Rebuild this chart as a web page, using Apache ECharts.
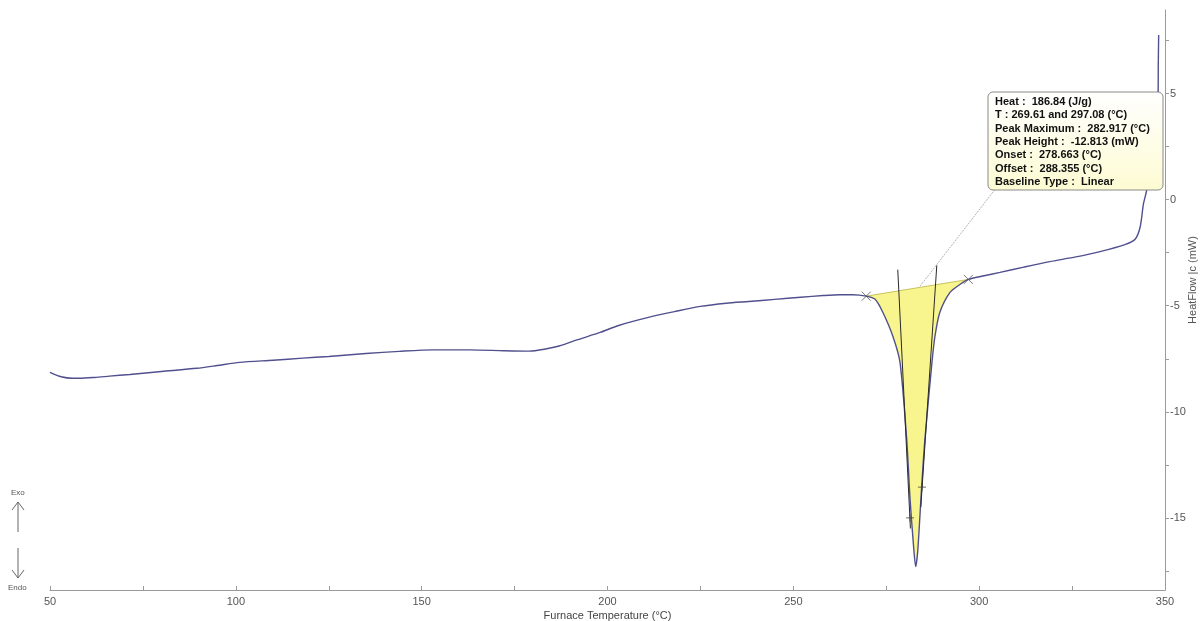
<!DOCTYPE html>
<html>
<head>
<meta charset="utf-8">
<script src="https://cdn.jsdelivr.net/npm/echarts@6/dist/echarts.min.js"></script>
<style>
html,body{margin:0;padding:0;background:#fff;overflow:hidden;}
#chart{width:1201px;height:621px;}
</style>
</head>
<body>
<div id="chart"></div>
<script>
// ---- data ----
const temperature = [50, 53, 56, 58, 62, 66, 71.5, 80, 89.5, 95, 101, 110, 118, 125, 135, 144, 153, 163, 172, 179, 183, 187, 192, 198, 203, 211, 218, 225, 232, 238, 245, 252, 258, 262.5, 266, 269.61, 272, 274.1, 276.8, 278.7, 280.5, 281.4, 282.2, 282.917, 283.5, 284.5, 285.4, 287.3, 288.1, 289.4, 292.1, 294.8, 297.08, 301, 305.6, 312, 319, 326, 332.5, 339.2, 341.9, 343.3, 344.2, 345.1, 346.5, 347.6, 348.1, 348.2, 348.3];
const heatFlow = [-8.14, -8.35, -8.42, -8.42, -8.38, -8.32, -8.24, -8.1, -7.95, -7.82, -7.67, -7.57, -7.47, -7.39, -7.25, -7.15, -7.08, -7.08, -7.12, -7.14, -7.05, -6.9, -6.6, -6.26, -5.93, -5.55, -5.28, -5.03, -4.88, -4.8, -4.7, -4.6, -4.52, -4.48, -4.48, -4.55, -4.7, -5.32, -6.45, -7.67, -11.29, -14.1, -16.0, -17.3, -16.5, -13.6, -11.3, -7.67, -6.45, -5.32, -4.38, -4.0, -3.76, -3.6, -3.43, -3.18, -2.92, -2.7, -2.45, -2.12, -1.88, -1.3, -0.2, 0.47, 2.5, 4.0, 4.7, 6.5, 7.76];
const peakLimits = [269.61, 297.08];
const baselineFlow = [-4.55, -3.76];
const tangentLeft = [[278.1, -3.3], [281.5, -15.5]];
const tangentRight = [[288.6, -3.1], [284.3, -14.5]];
const tangentMarks = [[281.4, -15.0], [284.6, -13.55]];
const leaderLine = [[304.2, 0.47], [284.0, -4.1]];
const xTicks = [50, 75, 100, 125, 150, 175, 200, 225, 250, 275, 300, 325, 350];
const xLabels = [50, 100, 150, 200, 250, 300, 350];
const yTicks = [-17.5, -15, -12.5, -10, -7.5, -5, -2.5, 0, 2.5, 5, 7.5];
const yLabels = [-15, -10, -5, 0, 5];
const annotationLines = [
  'Heat :  186.84 (J/g)',
  'T : 269.61 and 297.08 (°C)',
  'Peak Maximum :  282.917 (°C)',
  'Peak Height :  -12.813 (mW)',
  'Onset :  278.663 (°C)',
  'Offset :  288.355 (°C)',
  'Baseline Type :  Linear'
];
const xTitle = 'Furnace Temperature (°C)';
const yTitle = 'HeatFlow |c (mW)';

// ---- build ----
const curve = temperature.map((t, i) => [t, heatFlow[i]]);
const peakCurve = curve.filter(p => p[0] >= peakLimits[0] && p[0] <= peakLimits[1]);
const baseline = [[peakLimits[0], baselineFlow[0]], [peakLimits[1], baselineFlow[1]]];

const FONT = '"Liberation Sans", Arial, sans-serif';
const chart = echarts.init(document.getElementById('chart'), null, {renderer: 'canvas', width: 1201, height: 621});

const crossPath = 'path://M0,0L10,10M0,10L10,0';
const plusPath = 'path://M5,0L5,10M0,5L10,5';

chart.setOption({
  animation: false,
  backgroundColor: '#ffffff',
  grid: {left: 50, right: 36, top: 10, bottom: 31, containLabel: false, outerBoundsMode: 'none'},
  xAxis: {
    type: 'value', min: 50, max: 350, interval: 25,
    name: xTitle, nameLocation: 'middle', nameGap: 20, nameMoveOverlap: false,
    nameTextStyle: {fontFamily: FONT, fontSize: 11, color: '#444'},
    axisLine: {show: true, onZero: false, lineStyle: {color: '#9a9a9a', width: 1}},
    axisTick: {show: true, inside: true, length: 4, lineStyle: {color: '#9a9a9a'}, customValues: xTicks},
    axisLabel: {fontFamily: FONT, fontSize: 11, color: '#555', margin: 6, customValues: xLabels},
    splitLine: {show: false}
  },
  yAxis: {
    type: 'value', position: 'right', min: -18.4, max: 8.94,
    name: yTitle, nameLocation: 'middle', nameGap: 22, nameRotate: 90, nameMoveOverlap: false,
    nameTextStyle: {fontFamily: FONT, fontSize: 11, color: '#555', padding: [0, 0, 0, 40]},
    axisLine: {show: true, onZero: false, lineStyle: {color: '#9a9a9a', width: 1}},
    axisTick: {show: true, inside: false, length: 4, lineStyle: {color: '#9a9a9a'}, customValues: yTicks},
    axisLabel: {fontFamily: FONT, fontSize: 11, color: '#555', margin: 5, customValues: yLabels},
    splitLine: {show: false}
  },
  series: [
    {
      type: 'custom', z: 1, silent: true,
      data: [0],
      renderItem: function (params, api) {
        const pts = peakCurve.map(p => api.coord(p));
        pts.push(api.coord(baseline[1]));
        pts.push(api.coord(baseline[0]));
        return {type: 'polygon', shape: {points: pts}, style: {fill: '#f8f58e', stroke: null}};
      }
    },
    {
      type: 'line', z: 2, data: baseline, showSymbol: false, silent: true,
      lineStyle: {color: '#c9c35a', width: 1}
    },
    {
      type: 'line', z: 4, data: tangentLeft, showSymbol: false, silent: true,
      lineStyle: {color: '#2a2a2a', width: 1}
    },
    {
      type: 'line', z: 4, data: tangentRight, showSymbol: false, silent: true,
      lineStyle: {color: '#2a2a2a', width: 1}
    },
    {
      type: 'line', z: 3, data: curve, showSymbol: false, smooth: 0.25, silent: true,
      lineStyle: {color: '#50508e', width: 1.4}
    },
    {
      type: 'line', z: 3, data: leaderLine, showSymbol: false, silent: true,
      lineStyle: {color: '#a0a0a0', width: 0.8, type: [2, 1]}
    },
    {
      type: 'scatter', z: 5, data: baseline, symbol: crossPath, symbolSize: 9, silent: true,
      itemStyle: {color: 'rgba(0,0,0,0)', borderColor: '#555', borderWidth: 1}
    },
    {
      type: 'scatter', z: 5, data: tangentMarks, symbol: plusPath, symbolSize: 8, silent: true,
      itemStyle: {color: 'rgba(0,0,0,0)', borderColor: '#444', borderWidth: 1}
    }
  ],
  graphic: [
    {
      type: 'rect', z: 100, shape: {x: 988, y: 92, width: 175, height: 98, r: 5},
      style: {
        fill: new echarts.graphic.LinearGradient(0, 0, 0, 1, [
          {offset: 0, color: '#ffffff'}, {offset: 1, color: '#fdfbd2'}
        ]),
        stroke: '#8a8a8a', lineWidth: 1
      }
    },
    {
      type: 'text', z: 101, left: 995, top: 95,
      style: {
        text: annotationLines.join('\n'), fill: '#111',
        font: 'bold 11px ' + FONT, lineHeight: 13.4
      }
    },
    {type: 'text', z: 50, left: 11, top: 489, style: {text: 'Exo', fill: '#555', font: '8px ' + FONT}},
    {type: 'polyline', z: 50, shape: {points: [[18, 532], [18, 502]]}, style: {stroke: '#666', lineWidth: 1}},
    {type: 'polyline', z: 50, shape: {points: [[12, 510], [18, 502], [24, 510]]}, style: {stroke: '#666', lineWidth: 1, fill: null}},
    {type: 'polyline', z: 50, shape: {points: [[18, 548], [18, 578]]}, style: {stroke: '#666', lineWidth: 1}},
    {type: 'polyline', z: 50, shape: {points: [[12, 570], [18, 578], [24, 570]]}, style: {stroke: '#666', lineWidth: 1, fill: null}},
    {type: 'text', z: 50, left: 8, top: 584, style: {text: 'Endo', fill: '#555', font: '8px ' + FONT}}
  ]
});
</script>
</body>
</html>
